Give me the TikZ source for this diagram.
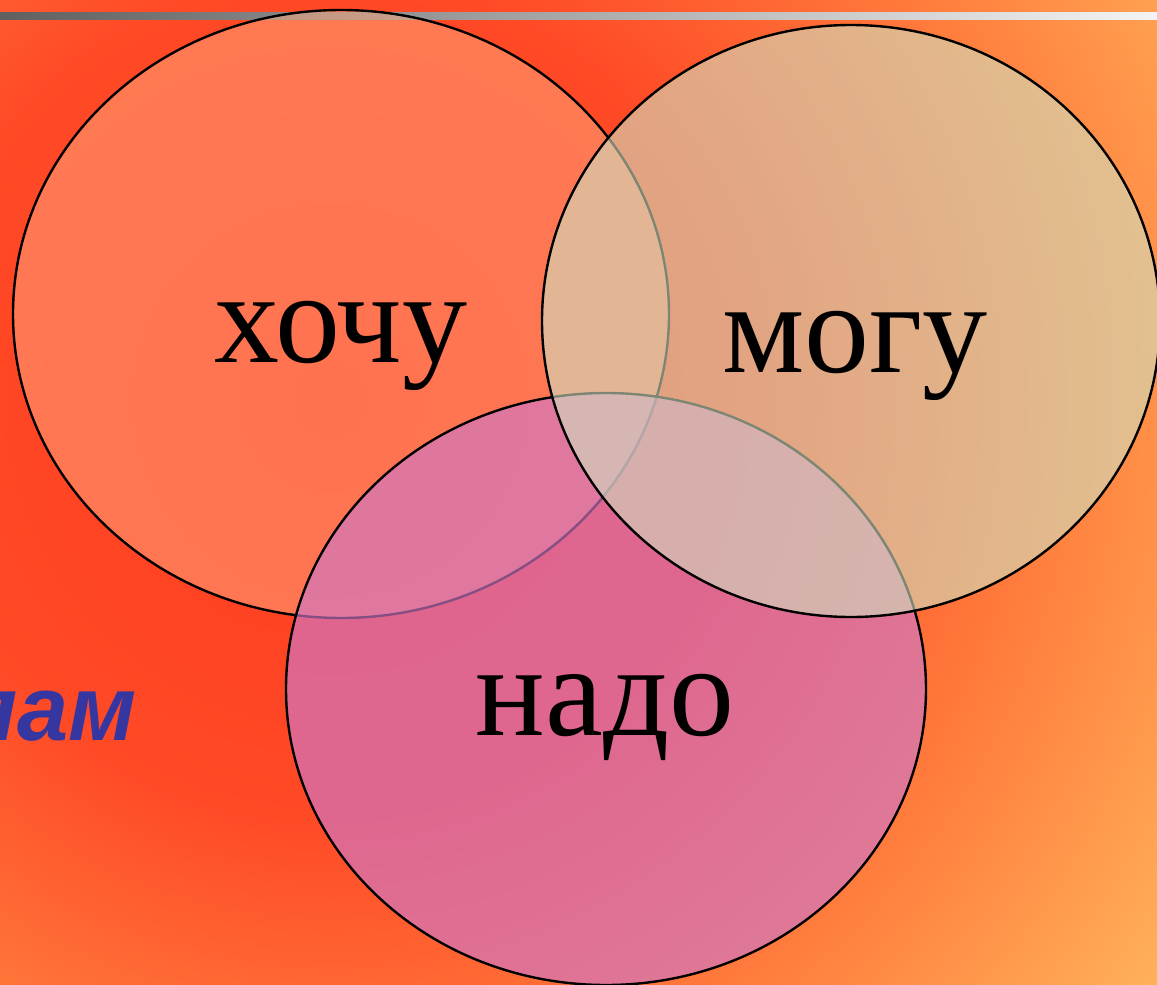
\documentclass[tikz,border=0pt]{standalone}
\usepackage{fontspec}
\usetikzlibrary{shapes.geometric}
\newfontfamily\tnr{Liberation Serif}
\newfontfamily\lsans{Liberation Sans}
\definecolor{bgA}{HTML}{FF3A1E}
\definecolor{bgB}{HTML}{FF4A26}
\definecolor{bgC}{HTML}{FF7A3C}
\definecolor{bgD}{HTML}{FFB85C}
\definecolor{barL}{HTML}{606060}
\definecolor{barR}{HTML}{F4F4F4}
\definecolor{hochuFill}{HTML}{FFAA82}
\definecolor{naddoFill}{HTML}{CF78C8}
\definecolor{moguFill}{HTML}{D0E0C0}
\definecolor{lamBlue}{HTML}{3636A0}
\pgfdeclareradialshading{bgshade}{\pgfpoint{0bp}{0bp}}{color(0bp)=(bgA); color(8.75bp)=(bgB); color(14.6bp)=(bgC); color(21.9bp)=(bgD); color(50bp)=(bgD)}
\tikzset{
  venn/.style={ellipse, draw=black, line width=1.2pt, inner sep=0pt},
  word/.style={font=\tnr\fontsize{65pt}{70pt}\selectfont, anchor=base, inner sep=0pt},
}
\begin{document}
\begin{tikzpicture}[x=0.5pt,y=-0.5pt]
\useasboundingbox (0,0) rectangle (1157,985);
\begin{scope}
\clip (0,0) rectangle (1157,985);
\shade[shading=bgshade] (330,400) circle[radius=600pt];
\shade[left color=barL, right color=barR] (0,12) rectangle (1157,19);
\end{scope}
\node[font=\lsans\bfseries\itshape\fontsize{46pt}{50pt}\selectfont, text=lamBlue, anchor=base east, inner sep=0pt] (lam) at (137,740) {лам};
\node[venn, fill=hochuFill, fill opacity=0.5, minimum width=328pt, minimum height=304pt] (hochu) at (341,314) {};
\node[venn, fill=naddoFill, fill opacity=0.65, minimum width=320pt, minimum height=296pt] (nado) at (606,689) {};
\node[venn, fill=moguFill, fill opacity=0.6, minimum width=309pt, minimum height=296pt] (mogu) at (851,321) {};
\node[word] (thochu) at (341,362) {хочу};
\node[word] (tmogu) at (855,372) {могу};
\node[word] (tnado) at (605,735) {надо};
\end{tikzpicture}
\end{document}
